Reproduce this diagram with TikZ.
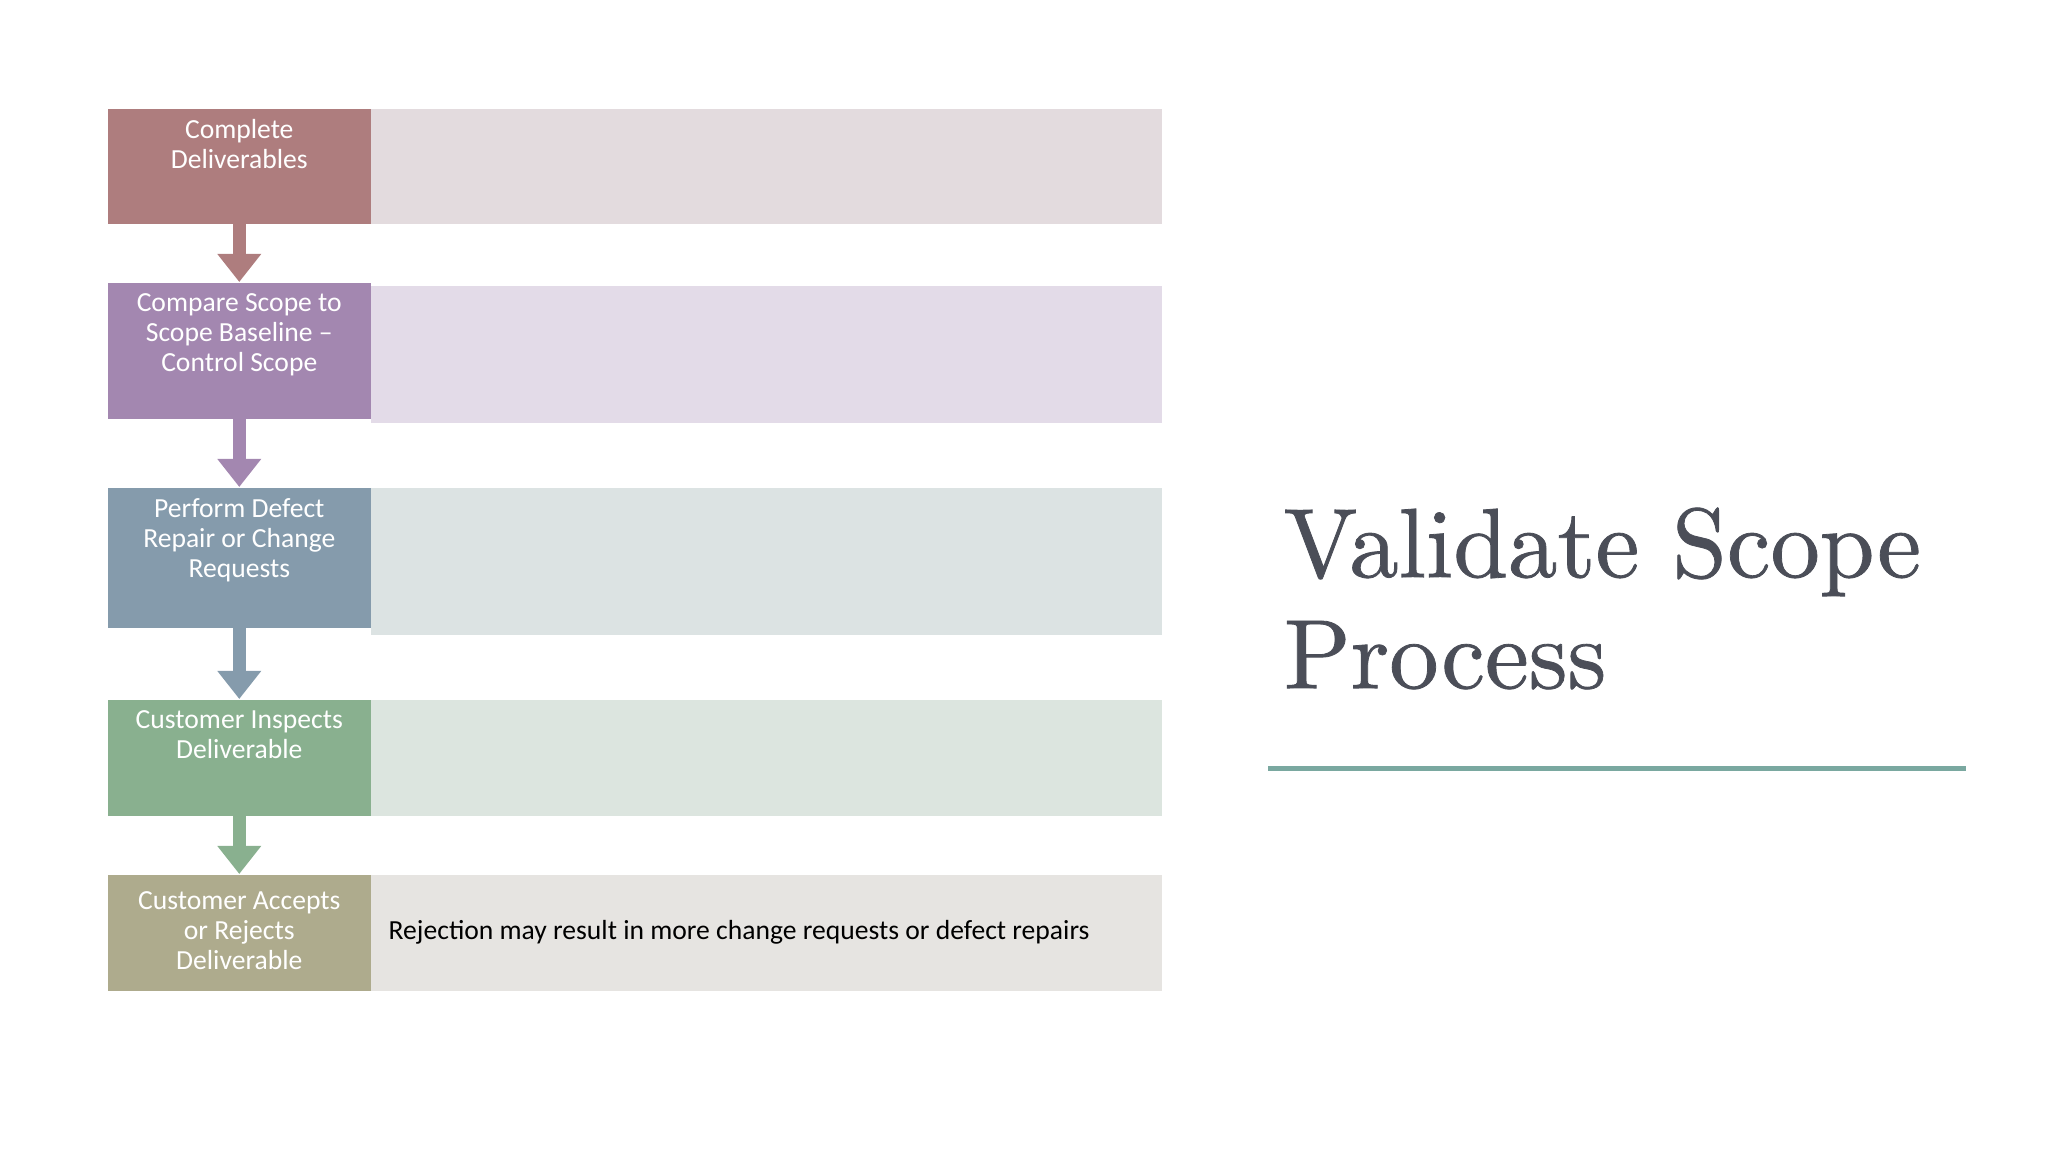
\documentclass[tikz,border=0pt]{standalone}
\usepackage{fontspec}
\newfontfamily\calibri{Carlito}
\newfontfamily\schoolfont{lmroman10-regular}[Extension=.otf, FakeBold=0.8]
\usepackage{tikz}
\usepackage{xcolor}
\usetikzlibrary{arrows.meta}

\definecolor{boxred}{HTML}{AE7D7E}
\definecolor{boxpurple}{HTML}{A387B0}
\definecolor{boxblue}{HTML}{859BAC}
\definecolor{boxgreen}{HTML}{89B08F}
\definecolor{boxolive}{HTML}{AEAB8D}
\definecolor{bandred}{HTML}{E3DBDE}
\definecolor{bandpurple}{HTML}{E3DBE8}
\definecolor{bandblue}{HTML}{DCE3E3}
\definecolor{bandgreen}{HTML}{DCE5DF}
\definecolor{bandolive}{HTML}{E6E4E1}
\definecolor{titlegray}{HTML}{4B4E58}
\definecolor{ruleteal}{HTML}{7AA8A0}

\begin{document}
\begin{tikzpicture}[x=0.01cm,y=-0.01cm,
    stepbox/.style={fill=#1, minimum width=2.63cm, anchor=north west, inner sep=0pt},
    band/.style={fill=#1, minimum width=7.91cm, anchor=north west, inner sep=0pt},
    boxtext/.style={text=white, font=\calibri\fontsize{7.85}{8.5}\selectfont, align=center, anchor=north, inner sep=0pt, yshift=-0.11cm},
    flow/.style={draw=#1, line width=0.13cm, -{Triangle[width=0.42cm,length=0.28cm]}}]
    \useasboundingbox (0,0) rectangle (2048,1152);
    % bands on the right
    \node[band=bandred, minimum height=1.15cm] (r1) at (370,108) {};
    \node[band=bandpurple, minimum height=1.37cm] (r2) at (370,285) {};
    \node[band=bandblue, minimum height=1.47cm] (r3) at (370,487) {};
    \node[band=bandgreen, minimum height=1.16cm] (r4) at (370,699) {};
    \node[band=bandolive, minimum height=1.16cm, inner xsep=0.18cm, text width=7.55cm, align=flush left,
          font=\calibri\fontsize{7.85}{8.5}\selectfont] (r5) at (370,874)
          {Rejection may result in more change requests or defect repairs};
    % step boxes
    \node[stepbox=boxred, minimum height=1.15cm] (b1) at (107,108) {};
    \node[stepbox=boxpurple, minimum height=1.36cm] (b2) at (107,282) {};
    \node[stepbox=boxblue, minimum height=1.40cm] (b3) at (107,487) {};
    \node[stepbox=boxgreen, minimum height=1.16cm] (b4) at (107,699) {};
    \node[stepbox=boxolive, minimum height=1.16cm] (b5) at (107,874) {};
    \node[boxtext] (t1) at (b1.north) {Complete\\Deliverables};
    \node[boxtext] (t2) at (b2.north) {Compare Scope to\\Scope Baseline –\\Control Scope};
    \node[boxtext] (t3) at (b3.north) {Perform Defect\\Repair or Change\\Requests};
    \node[boxtext] (t4) at (b4.north) {Customer Inspects\\Deliverable};
    \node[boxtext, yshift=-0.06cm] (t5) at (b5.north) {Customer Accepts\\or Rejects\\Deliverable};
    % arrows
    \draw[flow=boxred] (b1.south) -- (b2.north);
    \draw[flow=boxpurple] (b2.south) -- (b3.north);
    \draw[flow=boxblue] (b3.south) -- (b4.north);
    \draw[flow=boxgreen] (b4.south) -- (b5.north);
    % title
    \node[anchor=north west, inner sep=0pt, align=left, text=titlegray,
          font=\schoolfont\fontsize{28}{31.6}\selectfont] (title) at (1283,507) {Validate Scope\\Process};
    \draw[ruleteal, line width=0.05cm] (1268,768) -- (1966,768);
\end{tikzpicture}
\end{document}
